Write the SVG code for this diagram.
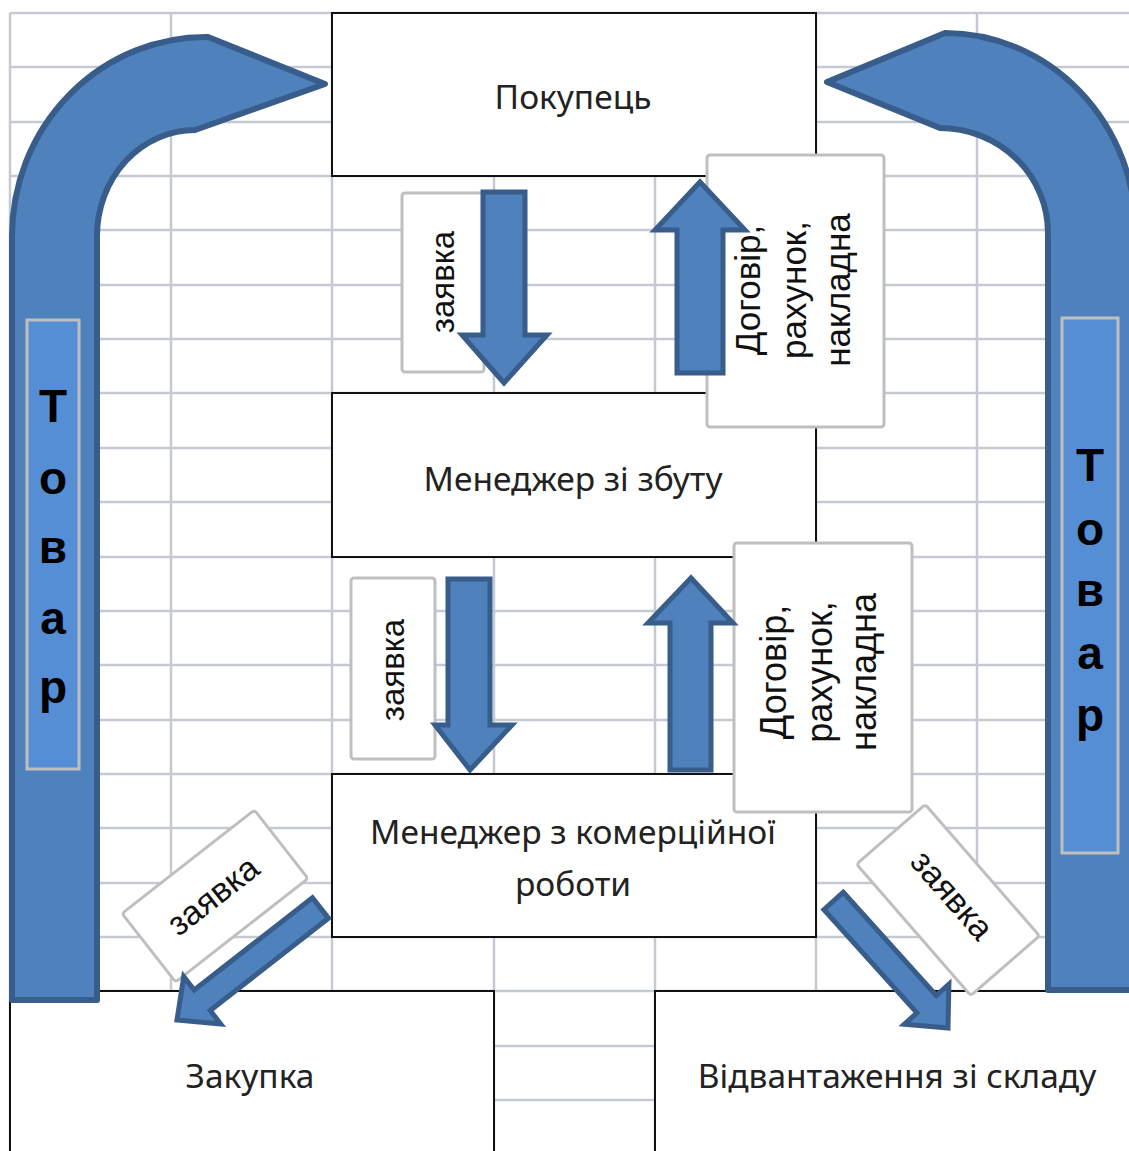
<svg xmlns="http://www.w3.org/2000/svg" width="1129" height="1151" viewBox="0 0 1129 1151">
<defs>
<style>
.grid{stroke:#c4c9d3;stroke-width:2.5;fill:none}
.box{fill:#fff;stroke:#111;stroke-width:2}
.lbl{font-family:"Noto Sans","Liberation Sans",sans-serif;font-size:33.5px;fill:#222;text-anchor:middle}
.big{fill:#4f81bd;stroke:#385d8a;stroke-width:6;stroke-linejoin:round}
.blk{fill:#4f81bd;stroke:#385d8a;stroke-width:5;stroke-linejoin:miter}
.tag{fill:#fff;stroke:#bfbfbf;stroke-width:3}
.tt{font-family:"Liberation Sans",Arial,sans-serif;fill:#111;text-anchor:middle}
.tov{fill:#558ed5;stroke:#bfbfbf;stroke-width:3}
.tovt{font-family:"Liberation Sans",Arial,sans-serif;font-weight:bold;font-size:46px;fill:#000;text-anchor:middle}
</style>
</defs>
<rect width="1129" height="1151" fill="#fff"/>
<g id="grid" class="grid">
<path d="M10 13H1129M10 67H1129M10 122H1129M10 176H1129M10 230H1129M10 285H1129M10 339H1129M10 393H1129M10 448H1129M10 502H1129M10 557H1129M10 611H1129M10 665H1129M10 720H1129M10 774H1129M10 828H1129M10 883H1129M10 937H1129M10 991H1129M10 1046H1129M10 1100H1129"/>
<path d="M10 13V1151M171 13V1151M332 13V1151M494 13V1151M655 13V1151M816 13V1151M977 13V1151"/>
</g>
<g id="pokupets"><rect class="box" x="332" y="13" width="484" height="163"/><text class="lbl" x="573" y="109">Покупець</text></g>
<g id="menedzher-zbut"><rect class="box" x="332" y="393" width="484" height="164"/><text class="lbl" x="573" y="491">Менеджер зі збуту</text></g>
<g id="menedzher-kom"><rect class="box" x="332" y="774" width="484" height="163"/><text class="lbl" x="573" y="844">Менеджер з комерційної</text><text class="lbl" x="573" y="896">роботи</text></g>
<g id="zakupka"><rect class="box" x="10" y="991" width="484" height="200"/><text class="lbl" x="250" y="1088">Закупка</text></g>
<g id="vidvantazhennia"><rect class="box" x="655" y="991" width="500" height="200"/><text class="lbl" x="897" y="1088">Відвантаження зі складу</text></g>
<g id="tovar-left">
<path class="big" d="M12 1000V236A194 199 0 0 1 208 37L325 84L195 130A98 106 0 0 0 97 236V1000Z"/>
<rect class="tov" x="27" y="320" width="52" height="449"/>
<text class="tovt" x="53" y="422">Т</text><text class="tovt" x="53" y="494">о</text><text class="tovt" x="53" y="563">в</text><text class="tovt" x="53" y="634">а</text><text class="tovt" x="53" y="703">р</text>
</g>
<g id="tovar-right">
<path class="big" d="M1136 990V233A191 200 0 0 0 945 33L827 82L940 128A108 105 0 0 1 1048 233V990Z"/>
<rect class="tov" x="1062" y="318" width="56" height="535"/>
<text class="tovt" x="1090" y="481">Т</text><text class="tovt" x="1090" y="545">о</text><text class="tovt" x="1090" y="606">в</text><text class="tovt" x="1090" y="669">а</text><text class="tovt" x="1090" y="731">р</text>
</g>
<g id="label-zayavka-1"><rect class="tag" x="402" y="193" width="82" height="179" rx="3"/><text class="tt" font-size="33" transform="rotate(-90)" x="-282" y="454">заявка</text></g>
<g id="label-dogovir-1"><rect class="tag" x="707" y="155" width="177" height="272" rx="3"/>
<text class="tt" font-size="35" transform="rotate(-90)"><tspan x="-290" y="760">Договір,</tspan><tspan x="-290" y="806">рахунок,</tspan><tspan x="-290" y="850">накладна</tspan></text></g>
<g id="label-zayavka-2"><rect class="tag" x="351" y="578" width="84" height="181" rx="3"/><text class="tt" font-size="33" transform="rotate(-90)" x="-670" y="404">заявка</text></g>
<g id="label-dogovir-2"><rect class="tag" x="734" y="543" width="178" height="269" rx="3"/>
<text class="tt" font-size="36" transform="rotate(-90)"><tspan x="-672" y="786">Договір,</tspan><tspan x="-672" y="832">рахунок,</tspan><tspan x="-672" y="876">накладна</tspan></text></g>
<g id="label-zayavka-3"><rect class="tag" x="-84" y="-43.5" width="168" height="87" rx="3" transform="translate(215 896) rotate(-38)"/><text class="tt" font-size="34" transform="translate(214 897) rotate(-38)" x="0" y="10">заявка</text></g>
<g id="label-zayavka-4"><rect class="tag" x="-87" y="-45.5" width="174" height="91" rx="3" transform="translate(948 900) rotate(49)"/><text class="tt" font-size="34" transform="translate(951 896) rotate(49)" x="0" y="10">заявка</text></g>
<g id="connectors">
<polygon class="blk" points="483,192 525,192 525,335 547,335 504,383 462,335 483,335"/>
<polygon class="blk" points="677,373 723,373 723,230 745,230 700,182 655,230 677,230"/>
<polygon class="blk" points="448,579 490,579 490,725 512,725 470,770 435,725 448,725"/>
<polygon class="blk" points="670,770 711,770 711,623 733,623 691,578 648,623 670,623"/>
<polygon class="blk" transform="translate(177 1020) rotate(142)" points="-182,-13 -32,-13 -32,-30 0,0 -32,30 -32,13 -182,13"/>
<polygon class="blk" transform="translate(948 1028) rotate(48)" points="-171,-13 -32,-13 -32,-30 0,0 -32,30 -32,13 -171,13"/>
</g>
</svg>
